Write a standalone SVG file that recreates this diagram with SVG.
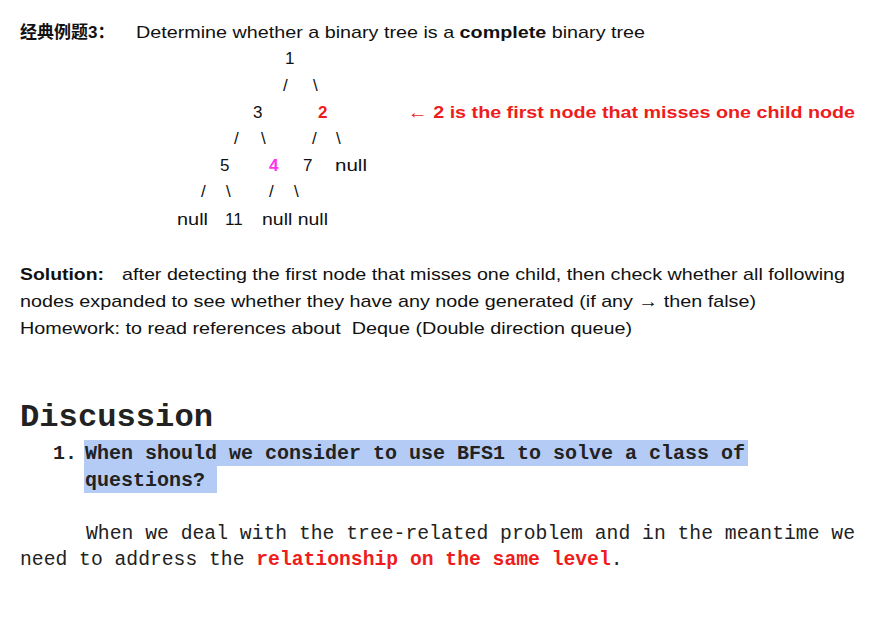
<svg xmlns="http://www.w3.org/2000/svg" width="892" height="619" viewBox="0 0 892 619">
<style>
.s{font-family:"Liberation Sans",Arial,sans-serif;font-size:17px;fill:#111}
.b{font-weight:bold}
.red{fill:#ee1c1c}
.mag{fill:#ff33ee}
.pre{white-space:pre}
.m{font-family:"Liberation Mono","Courier New",monospace;fill:#222}
.cn{font-family:"Liberation Sans","Noto Sans CJK SC",sans-serif;font-weight:bold;font-size:17px;fill:#111}
</style>
<rect width="892" height="619" fill="#fff"/>
<g id="title">
<text class="cn" x="20" y="38" font-size="18">经典例题3：</text>
<text class="s" x="136" y="38" textLength="509" lengthAdjust="spacingAndGlyphs">Determine whether a binary tree is a <tspan class="b">complete</tspan> binary tree</text>
</g>
<g id="tree" class="s">
<text x="285" y="64">1</text>
<text x="283" y="91">/</text><text x="313" y="91">\</text>
<text x="253" y="118">3</text><text class="b red" x="318" y="118">2</text>
<text x="234" y="144">/</text><text x="261" y="144">\</text>
<text x="312" y="144">/</text><text x="336" y="144">\</text>
<text x="220" y="171">5</text><text class="b mag" x="269" y="171">4</text><text x="303" y="171">7</text><text x="335" y="171" textLength="32" lengthAdjust="spacingAndGlyphs">null</text>
<text x="201" y="197">/</text><text x="226" y="197">\</text>
<text x="269" y="197">/</text><text x="294" y="197">\</text>
<text x="177" y="225" textLength="31" lengthAdjust="spacingAndGlyphs">null</text><text x="225" y="225">11</text><text x="262" y="225" textLength="66" lengthAdjust="spacingAndGlyphs">null null</text>
</g>
<g id="note">
<text class="s b red" x="408" y="118" textLength="447" lengthAdjust="spacingAndGlyphs">← 2 is the first node that misses one child node</text>
</g>
<g id="solution" class="s">
<text x="20" y="280" class="b" textLength="84" lengthAdjust="spacingAndGlyphs">Solution:</text>
<text x="122" y="280" textLength="723" lengthAdjust="spacingAndGlyphs">after detecting the first node that misses one child, then check whether all following</text>
<text x="20" y="307" textLength="736" lengthAdjust="spacingAndGlyphs">nodes expanded to see whether they have any node generated (if any → then false)</text>
<text x="20" y="334" textLength="612" lengthAdjust="spacingAndGlyphs" class="pre">Homework: to read references about  Deque (Double direction queue)</text>
</g>
<g id="discussion">
<text class="m b" x="20" y="426" font-size="32" textLength="193" lengthAdjust="spacingAndGlyphs">Discussion</text>
<rect x="84" y="440" width="664" height="26" fill="#b3cbf5"/>
<rect x="84" y="466" width="133" height="27" fill="#b3cbf5"/>
<text class="m" x="53" y="459" font-size="20" font-weight="bold">1.</text>
<text class="m b" x="85" y="459" font-size="20" textLength="660" lengthAdjust="spacingAndGlyphs">When should we consider to use BFS1 to solve a class of</text>
<text class="m b" x="85" y="486" font-size="20" textLength="120" lengthAdjust="spacingAndGlyphs">questions?</text>
<text class="m" x="86" y="539" font-size="19.7" fill="#333" textLength="769" lengthAdjust="spacingAndGlyphs">When we deal with the tree-related problem and in the meantime we</text>
<text class="m" x="20" y="565" font-size="19.7" fill="#333">need to address the <tspan class="b red">relationship on the same level</tspan>.</text>
</g>
</svg>
